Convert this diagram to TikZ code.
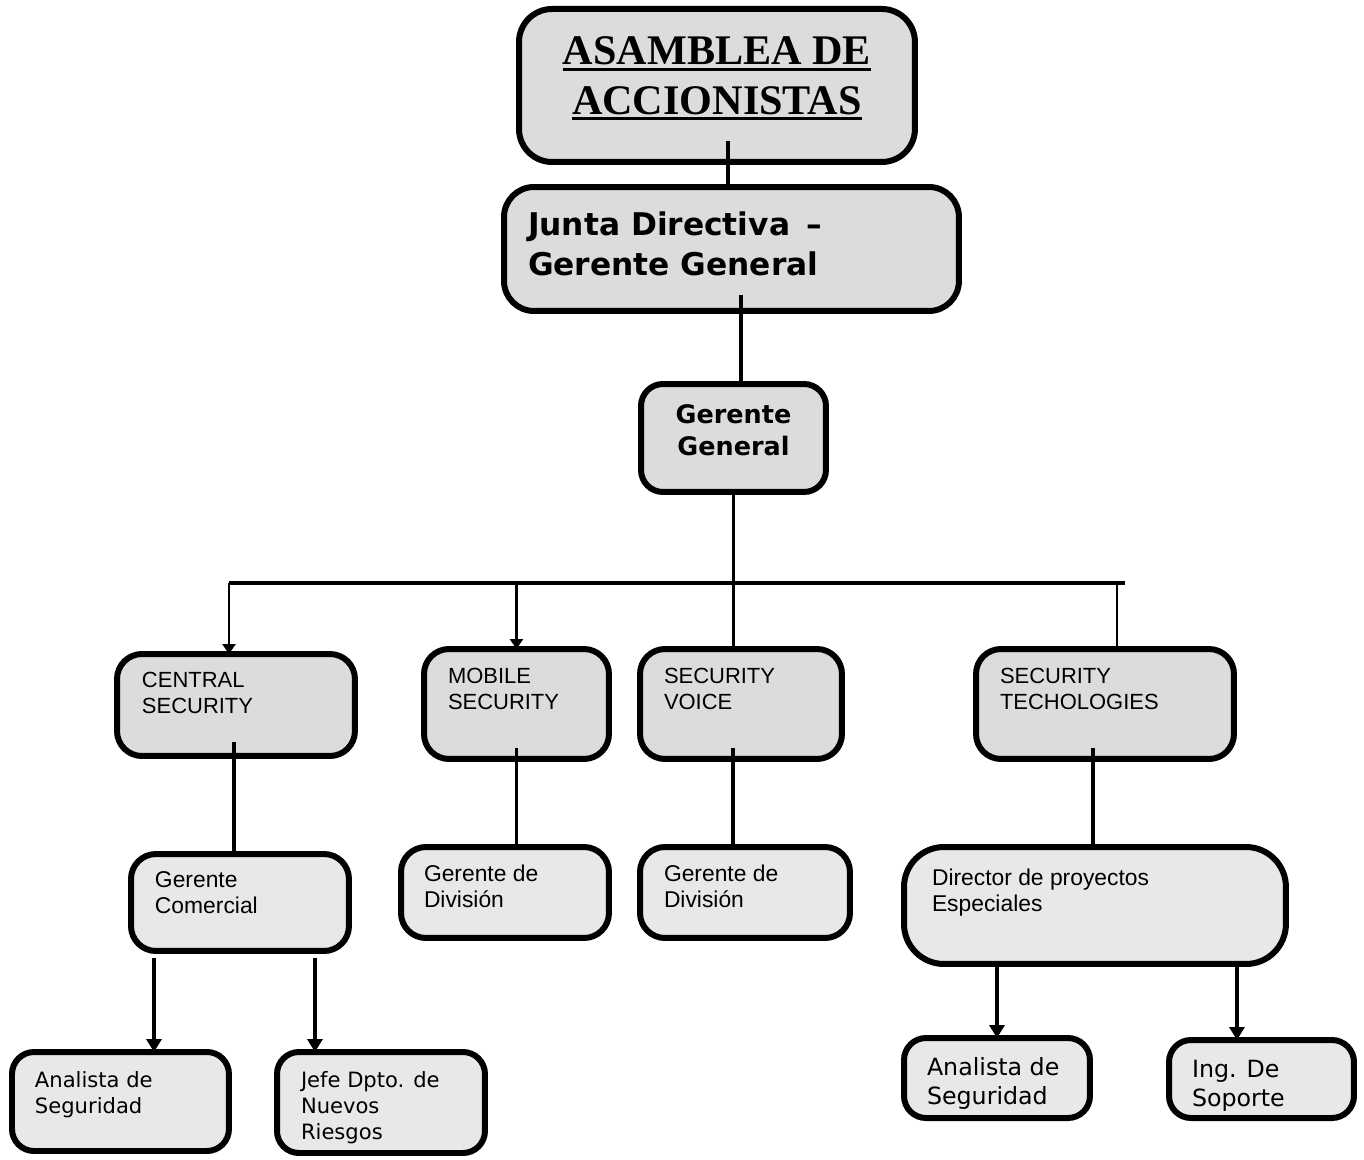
\documentclass[tikz,border=0pt]{standalone}
\usepackage{fontspec}
\setmainfont{Liberation Sans}
\newfontfamily\timesbold{Liberation Serif}
\newfontfamily\verdana{DejaVu Sans}
\usetikzlibrary{arrows.meta}
\usetikzlibrary{calc}

\definecolor{topgray}{HTML}{DCDCDC}
\definecolor{lowgray}{HTML}{E8E8E8}

\newcommand{\boxtext}[5]{\parbox[c][#2cm][t]{#1cm}{\vspace*{#4cm}\raggedright\leftskip=#3cm #5\par}}
\newcommand{\thickul}[1]{\leavevmode\setbox0\hbox{#1}\rlap{\rule[-3.4pt]{\wd0}{1.7pt}}\box0}
\newcommand{\asmfont}{\timesbold\bfseries\fontsize{24pt}{28pt}\selectfont}
\newcommand{\juntafont}{\verdana\bfseries\fontsize{17.8pt}{22.8pt}\selectfont}
\newcommand{\ggfont}{\verdana\bfseries\fontsize{14.5pt}{18.2pt}\selectfont}
\newcommand{\deptfont}{\fontsize{12.5pt}{14.8pt}\selectfont}
\newcommand{\mgrfont}{\fontsize{13pt}{14.8pt}\selectfont}
\newcommand{\staffsmall}{\verdana\fontsize{12pt}{14.8pt}\selectfont}
\newcommand{\stafflarge}{\verdana\fontsize{13.5pt}{16.5pt}\selectfont}

\begin{document}
\begin{tikzpicture}[x=0.02cm, y=-0.02cm,
    box/.style={draw, line width=0.12cm, inner sep=0pt, outer sep=0pt, anchor=north west},
    topbox/.style={box, fill=topgray},
    lowbox/.style={box, fill=lowgray},
    link/.style={line width=0.065cm},
    drop/.style={line width=0.05cm},
    bar/.style={line width=0.09cm},
    arrowline/.style={link, -{Triangle[width=0.3cm,length=0.26cm]}},
    smallarrow/.style={drop, -{Triangle[width=0.26cm,length=0.2cm]}}]
    \useasboundingbox (0,0) rectangle (1364,1159);

    \node[topbox, rounded corners=0.66cm] (asm) at (519,9)
        {\boxtext{7.92}{3.06}{0}{0.56}{\centering\asmfont \thickul{ASAMBLEA DE}\\\thickul{ACCIONISTAS}}};
    \node[topbox, rounded corners=0.6cm] (junta) at (504,187)
        {\boxtext{9.10}{2.48}{0.48}{0.50}{\juntafont Junta Directiva \,–\\Gerente General}};
    \node[topbox, rounded corners=0.44cm] (gg) at (641,384)
        {\boxtext{3.70}{2.16}{0}{0.42}{\centering\ggfont Gerente\\General}};

    \node[topbox, rounded corners=0.5cm] (cs) at (117,654)
        {\boxtext{4.76}{2.04}{0.50}{0.36}{\deptfont CENTRAL\\SECURITY}};
    \node[topbox, rounded corners=0.5cm] (mob) at (424,649)
        {\boxtext{3.70}{2.20}{0.48}{0.38}{\deptfont MOBILE\\SECURITY}};
    \node[topbox, rounded corners=0.5cm] (voi) at (640,649)
        {\boxtext{4.04}{2.20}{0.48}{0.38}{\deptfont SECURITY\\VOICE}};
    \node[topbox, rounded corners=0.5cm] (tec) at (976,649)
        {\boxtext{5.16}{2.20}{0.48}{0.38}{\deptfont SECURITY\\TECHOLOGIES}};

    \node[lowbox, rounded corners=0.5cm] (gc) at (131,854)
        {\boxtext{4.36}{1.94}{0.48}{0.36}{\mgrfont Gerente\\Comercial}};
    \node[lowbox, rounded corners=0.5cm] (gdm) at (401,847)
        {\boxtext{4.16}{1.82}{0.46}{0.36}{\mgrfont Gerente de\\División}};
    \node[lowbox, rounded corners=0.5cm] (gdv) at (640,847)
        {\boxtext{4.20}{1.82}{0.48}{0.36}{\mgrfont Gerente de\\División}};
    \node[lowbox, rounded corners=0.8cm] (dir) at (904,847)
        {\boxtext{7.64}{2.34}{0.56}{0.44}{\mgrfont Director de proyectos\\Especiales}};

    \node[lowbox, rounded corners=0.44cm] (an1) at (12,1052)
        {\boxtext{4.34}{1.98}{0.46}{0.38}{\staffsmall Analista de\\Seguridad}};
    \node[lowbox, rounded corners=0.44cm] (jef) at (277,1052)
        {\boxtext{4.16}{2.02}{0.48}{0.38}{\staffsmall Jefe Dpto. de\\Nuevos\\Riesgos}};
    \node[lowbox, rounded corners=0.44cm] (an2) at (904,1038)
        {\boxtext{3.72}{1.60}{0.46}{0.38}{\stafflarge Analista de\\Seguridad}};
    \node[lowbox, rounded corners=0.44cm] (ing) at (1169,1040)
        {\boxtext{3.70}{1.56}{0.46}{0.40}{\stafflarge Ing. De\\Soporte}};

    \coordinate (a1) at ([xshift=0.22cm,yshift=0.42cm]asm.south);
    \draw[link] (a1) -- (a1 |- junta.north);
    \coordinate (j1) at ([xshift=0.19cm,yshift=0.32cm]junta.south);
    \draw[link] (j1) -- (j1 |- gg.north);

    \coordinate (barL) at (229,583);
    \coordinate (barR) at (1125,583);
    \coordinate (barT) at (1117,583);
    \draw[bar] (barL) -- (barR);
    \draw[link] (gg.south) -- (gg.south |- voi.north);
    \draw[smallarrow] (barL) -- (barL |- cs.north);
    \draw[smallarrow] (mob.north |- barL) -- (mob.north);
    \draw[drop] (barT) -- (barT |- tec.north);

    \coordinate (c1) at ([xshift=-0.04cm,yshift=0.28cm]cs.south);
    \draw[link] (c1) -- (c1 |- gc.north);
    \coordinate (m1) at ([yshift=0.22cm]mob.south);
    \draw[link] (m1) -- (m1 |- gdm.north);
    \coordinate (v1) at ([xshift=-0.16cm,yshift=0.22cm]voi.south);
    \draw[link] (v1) -- (v1 |- gdv.north);
    \coordinate (t1) at ([xshift=-0.24cm,yshift=0.22cm]tec.south);
    \draw[link] (t1) -- (t1 |- dir.north);

    \coordinate (g1) at ([xshift=-1.72cm,yshift=-0.14cm]gc.south);
    \coordinate (g2) at ([xshift=1.5cm,yshift=-0.14cm]gc.south);
    \draw[arrowline] (g1) -- (g1 |- an1.north);
    \draw[arrowline] (g2) -- (g2 |- jef.north);
    \coordinate (d1) at ([xshift=-1.96cm,yshift=0.02cm]dir.south);
    \coordinate (d2) at ([xshift=2.84cm,yshift=-0.06cm]dir.south);
    \draw[arrowline] (d1) -- (d1 |- an2.north);
    \draw[arrowline] (d2) -- (d2 |- ing.north);
\end{tikzpicture}
\end{document}
